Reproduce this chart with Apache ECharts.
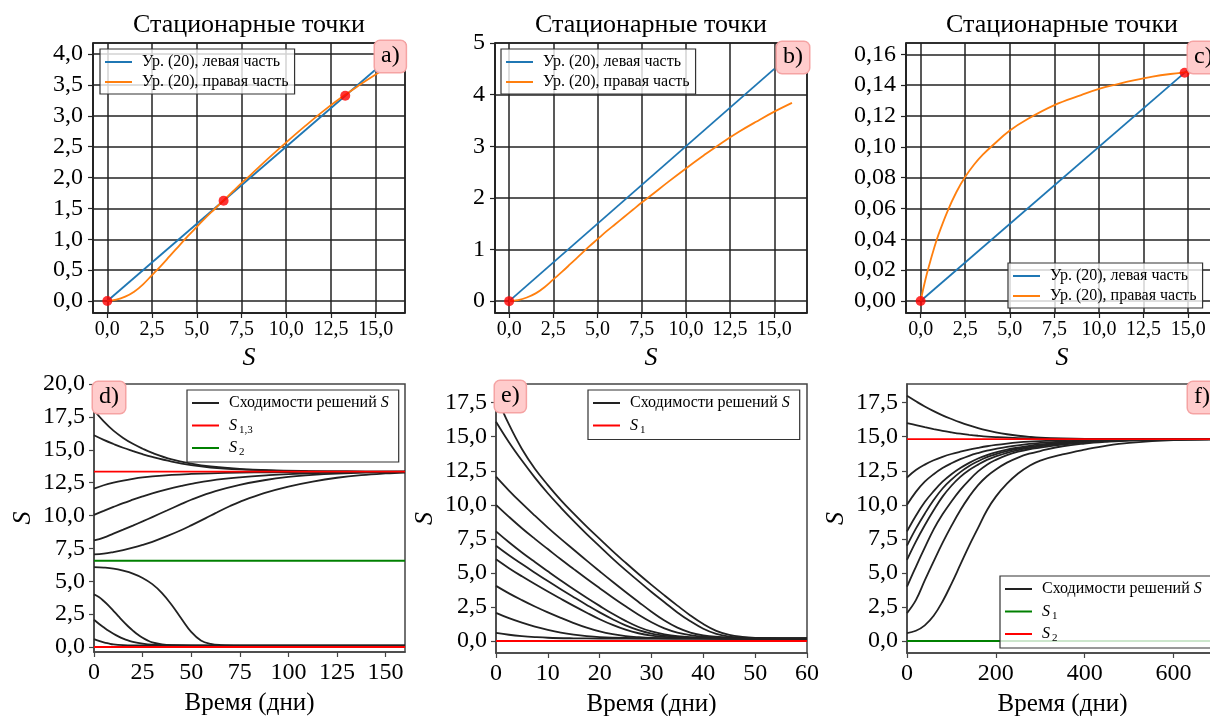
<!DOCTYPE html>
<html><head><meta charset="utf-8">
<script src="https://cdn.jsdelivr.net/npm/echarts@6/dist/echarts.min.js"></script>
<style>html,body{margin:0;padding:0;background:#fff}#c{width:1210px;height:716px}</style>
</head><body><div id="c"></div>
<script>
// ---------------- data: top row (stationary points) ----------------
const lhsA = [[0, 0], [15, 3.75]];
const lhsB = [[0, 0], [15, 4.5]];
const lhsC = [[0, 0], [15, 0.15]];
const sRhsAB = [0, 0.5, 1, 1.5, 2, 2.5, 3, 3.5, 4, 4.5, 5, 5.5, 6, 6.5, 7, 7.5, 8, 9, 10, 11, 12, 13, 14, 15, 16];
const rhsAB  = [0, 0.02, 0.07, 0.15, 0.27, 0.42, 0.57, 0.73, 0.89, 1.05, 1.2, 1.35, 1.49, 1.63, 1.77, 1.91, 2.04, 2.31, 2.57, 2.82, 3.06, 3.28, 3.48, 3.67, 3.84];
const sRhsC = [0, 0.25, 0.5, 0.75, 1, 1.5, 2, 2.5, 3, 3.5, 4, 5, 6, 7.5, 9, 10, 11, 12, 13, 14, 14.8, 15.8];
const rhsC  = [0, 0.013, 0.024, 0.034, 0.043, 0.058, 0.0705, 0.0805, 0.0885, 0.095, 0.1005, 0.1105, 0.118, 0.127, 0.1335, 0.1375, 0.1405, 0.1432, 0.1455, 0.1472, 0.1482, 0.1492];
const dotsA = [[0, 0], [6.5, 1.625], [13.3, 3.325]];
const dotsB = [[0, 0]];
const dotsC = [[0, 0], [14.8, 0.148]];

// ---------------- data: panel d ----------------
const d18 = [[0,18],[5,17.15],[10,16.45],[15,15.9],[20,15.45],[25,15.08],[30,14.76],[40,14.27],[50,13.95],[60,13.73],[75,13.54],[90,13.44],[110,13.38],[130,13.35],[160,13.33]];
const d16 = [[0,16.1],[5,15.75],[10,15.44],[15,15.15],[20,14.9],[25,14.66],[30,14.45],[40,14.1],[50,13.83],[60,13.65],[75,13.5],[90,13.42],[110,13.37],[130,13.35],[160,13.33]];
const d12 = [[0,12.05],[5,12.3],[10,12.5],[15,12.66],[20,12.79],[25,12.9],[30,12.98],[40,13.09],[50,13.16],[60,13.21],[75,13.26],[90,13.29],[110,13.31],[130,13.32],[160,13.33]];
const d10 = [[0,10.05],[5,10.35],[10,10.65],[15,10.94],[20,11.2],[25,11.45],[30,11.68],[37.5,11.98],[45,12.25],[50,12.41],[60,12.66],[75,12.9],[90,13.07],[100,13.15],[115,13.23],[130,13.28],[145,13.31],[160,13.32]];
const d8  = [[0,8.1],[5,8.32],[10,8.62],[15,8.92],[20,9.23],[25,9.55],[30,9.88],[37.5,10.38],[45,10.88],[50,11.2],[62.5,11.85],[75,12.33],[87.5,12.68],[100,12.93],[112.5,13.09],[125,13.19],[140,13.26],[160,13.31]];
const d7  = [[0,7.05],[5,7.1],[10,7.22],[15,7.37],[20,7.55],[25,7.76],[30,8.0],[37.5,8.43],[45,8.9],[50,9.25],[57.5,9.8],[62.5,10.18],[70,10.72],[75,11.04],[87.5,11.7],[100,12.2],[112.5,12.58],[125,12.87],[137.5,13.07],[150,13.2],[160,13.27]];
const d6  = [[0,6.08],[5,6.04],[10,5.96],[15,5.8],[20,5.58],[25,5.25],[30,4.78],[35,4.1],[40,3.2],[45,2.15],[50,1.15],[55,0.5],[60,0.24],[65,0.15],[75,0.11],[100,0.1],[160,0.1]];
const d4  = [[0,4.0],[2.5,3.8],[5,3.5],[7.5,3.15],[10,2.75],[12.5,2.35],[15,1.95],[17.5,1.58],[20,1.25],[22.5,0.95],[25,0.7],[27.5,0.5],[30,0.35],[35,0.2],[40,0.14],[50,0.11],[160,0.1]];
const d2  = [[0,2.07],[2.5,1.77],[5,1.5],[7.5,1.24],[10,1.01],[12.5,0.81],[15,0.64],[17.5,0.5],[20,0.39],[25,0.25],[30,0.17],[40,0.12],[160,0.1]];
const d06 = [[0,0.6],[2.5,0.46],[5,0.35],[7.5,0.27],[10,0.2],[15,0.14],[20,0.12],[160,0.1]];
const levelsD_S13 = [13.33, 0];
const levelsD_S2 = [6.56];

// ---------------- data: panel e ----------------
const e18 = [[0,18],[2.5,15.9],[5,14.1],[7.5,12.65],[10,11.45],[12.5,10.35],[15,9.35],[17.5,8.4],[20,7.5],[22.5,6.6],[25,5.75],[27.5,4.92],[30,4.12],[32.5,3.35],[35,2.6],[37.5,1.88],[40,1.25],[42.5,0.75],[45,0.45],[47.5,0.3],[50,0.23],[55,0.18],[60,0.17]];
const e16 = [[0,16.1],[2.5,14.6],[5,13.25],[7.5,12.0],[10,10.85],[12.5,9.8],[15,8.8],[17.5,7.85],[20,6.95],[22.5,6.05],[25,5.2],[27.5,4.4],[30,3.6],[32.5,2.85],[35,2.1],[37.5,1.45],[40,0.9],[42.5,0.52],[45,0.33],[47.5,0.24],[50,0.2],[55,0.18],[60,0.17]];
const e12 = [[0,12.07],[2.5,11.05],[5,10.1],[7.5,9.2],[10,8.33],[12.5,7.5],[15,6.7],[17.5,5.9],[20,5.12],[22.5,4.35],[25,3.6],[27.5,2.87],[30,2.15],[32.5,1.5],[35,0.98],[37.5,0.62],[40,0.42],[45,0.25],[50,0.19],[60,0.17]];
const e10 = [[0,10.0],[2.5,9.12],[5,8.28],[7.5,7.5],[10,6.75],[12.5,6.0],[15,5.28],[17.5,4.57],[20,3.88],[22.5,3.2],[25,2.55],[27.5,1.93],[30,1.38],[32.5,0.93],[35,0.62],[37.5,0.43],[40,0.32],[45,0.22],[50,0.18],[60,0.17]];
const e8  = [[0,8.05],[2.5,7.25],[5,6.5],[7.5,5.8],[10,5.12],[12.5,4.45],[15,3.8],[17.5,3.18],[20,2.58],[22.5,2.0],[25,1.48],[27.5,1.03],[30,0.7],[32.5,0.48],[35,0.35],[40,0.23],[45,0.19],[50,0.18],[60,0.17]];
const e7  = [[0,7.0],[2.5,6.3],[5,5.65],[7.5,5.02],[10,4.4],[12.5,3.8],[15,3.22],[17.5,2.65],[20,2.1],[22.5,1.6],[25,1.15],[27.5,0.8],[30,0.55],[32.5,0.4],[35,0.3],[40,0.21],[50,0.18],[60,0.17]];
const e6  = [[0,6.0],[2.5,5.35],[5,4.75],[7.5,4.18],[10,3.63],[12.5,3.1],[15,2.58],[17.5,2.08],[20,1.6],[22.5,1.18],[25,0.83],[27.5,0.57],[30,0.4],[32.5,0.3],[35,0.25],[40,0.2],[50,0.18],[60,0.17]];
const e4  = [[0,4.05],[2.5,3.5],[5,3.0],[7.5,2.53],[10,2.1],[12.5,1.7],[15,1.32],[17.5,0.98],[20,0.7],[22.5,0.5],[25,0.36],[27.5,0.28],[30,0.23],[35,0.2],[45,0.18],[60,0.17]];
const e2  = [[0,2.07],[2.5,1.68],[5,1.35],[7.5,1.06],[10,0.82],[12.5,0.62],[15,0.47],[17.5,0.36],[20,0.29],[25,0.22],[30,0.19],[40,0.18],[60,0.17]];
const e06 = [[0,0.6],[2.5,0.46],[5,0.36],[7.5,0.29],[10,0.24],[15,0.2],[20,0.18],[30,0.17],[60,0.17]];
const levelsE_S1 = [0];

// ---------------- data: panel f ----------------
const f18 = [[0,18],[20,17.6],[40,17.22],[60,16.88],[80,16.57],[100,16.3],[120,16.05],[140,15.83],[160,15.63],[180,15.46],[200,15.32],[225,15.18],[250,15.07],[275,14.99],[300,14.93],[350,14.87],[400,14.84],[500,14.83],[700,14.82]];
const f16 = [[0,16.0],[20,15.85],[40,15.7],[60,15.56],[80,15.43],[100,15.32],[120,15.22],[140,15.14],[160,15.07],[180,15.01],[200,14.97],[250,14.9],[300,14.86],[400,14.83],[700,14.82]];
const f12 = [[0,12.0],[20,12.55],[40,12.95],[60,13.27],[80,13.52],[100,13.73],[120,13.9],[140,14.05],[160,14.18],[180,14.3],[200,14.4],[225,14.5],[250,14.58],[275,14.64],[300,14.68],[350,14.74],[400,14.78],[500,14.81],[700,14.82]];
const f10 = [[0,10.0],[20,10.95],[40,11.7],[60,12.25],[80,12.7],[100,13.05],[120,13.35],[140,13.6],[160,13.8],[180,13.97],[200,14.1],[225,14.25],[250,14.37],[275,14.47],[300,14.55],[350,14.66],[400,14.73],[450,14.77],[500,14.8],[600,14.82],[700,14.82]];
const f8  = [[0,8.05],[20,9.2],[40,10.2],[60,11.0],[80,11.7],[100,12.25],[120,12.7],[140,13.08],[160,13.4],[180,13.65],[200,13.85],[225,14.05],[250,14.2],[275,14.33],[300,14.43],[350,14.58],[400,14.68],[450,14.74],[500,14.78],[600,14.81],[700,14.82]];
const f7  = [[0,7.0],[20,8.25],[40,9.35],[60,10.35],[80,11.2],[100,11.85],[120,12.4],[140,12.85],[160,13.2],[180,13.5],[200,13.72],[225,13.95],[250,14.12],[275,14.26],[300,14.37],[350,14.54],[400,14.65],[450,14.72],[500,14.77],[600,14.8],[700,14.82]];
const f6  = [[0,5.96],[20,7.3],[40,8.5],[60,9.6],[80,10.6],[100,11.4],[120,12.05],[140,12.55],[160,12.95],[180,13.3],[200,13.55],[225,13.82],[250,14.02],[275,14.17],[300,14.3],[350,14.5],[400,14.62],[450,14.7],[500,14.75],[600,14.8],[700,14.82]];
const f4  = [[0,4.0],[20,5.45],[40,6.85],[60,8.2],[80,9.3],[100,10.25],[120,11.1],[140,11.82],[160,12.45],[180,12.95],[200,13.3],[225,13.65],[250,13.9],[275,14.08],[300,14.2],[350,14.42],[400,14.57],[450,14.67],[500,14.73],[600,14.79],[700,14.82]];
const f2  = [[0,2.05],[20,3.0],[40,4.45],[60,5.85],[80,7.2],[100,8.45],[120,9.6],[140,10.6],[160,11.45],[180,12.1],[200,12.6],[225,13.1],[250,13.47],[275,13.75],[300,13.95],[350,14.3],[400,14.5],[450,14.63],[500,14.72],[600,14.79],[700,14.81]];
const f06 = [[0,0.58],[20,0.75],[40,1.15],[60,1.85],[80,2.9],[100,4.2],[120,5.6],[140,7.0],[160,8.3],[180,9.6],[200,10.6],[225,11.55],[250,12.3],[275,12.85],[300,13.25],[350,13.7],[400,14.05],[450,14.35],[500,14.55],[600,14.75],[700,14.8]];
const levelsF_S1 = [0];
const levelsF_S2 = [14.82];

// ---------------- axes: ranges and tick labels ----------------
const xRange = [[-0.8, 16.64], [-0.8, 16.85], [-0.82, 16.67], [0, 160], [0, 60], [0, 700]];
const yRange = [[-0.195, 4.18], [-0.23, 5.0], [-0.0078, 0.1673], [-0.38, 20], [-0.88, 18.87], [-0.88, 18.87]];
const xTicksTop = [0, 2.5, 5, 7.5, 10, 12.5, 15];
const yTicksA = [0, 0.5, 1, 1.5, 2, 2.5, 3, 3.5, 4];
const yTicksB = [0, 1, 2, 3, 4, 5];
const yTicksC = [0, 0.02, 0.04, 0.06, 0.08, 0.1, 0.12, 0.14, 0.16];
const xTicksD = [0, 25, 50, 75, 100, 125, 150];
const yTicksD = [0, 2.5, 5, 7.5, 10, 12.5, 15, 17.5, 20];
const xTicksE = [0, 10, 20, 30, 40, 50, 60];
const yTicksEF = [0, 2.5, 5, 7.5, 10, 12.5, 15, 17.5];
const xTicksF = [0, 200, 400, 600];

// ---------------- texts ----------------
const TITLE = 'Стационарные точки';
const LEG = {
  lhs: '{g|}Ур. (20), левая часть',
  rhs: '{g|}Ур. (20), правая часть',
  conv: '{g|}Сходимости решений {i|S}',
  S13: '{g|}{i|S}{s|1,3}',
  S2d: '{g|}{i|S}{s|2}',
  S1e: '{g|}{i|S}{s|1}',
  S1f: '{g|}{i|S}{s|1}',
  S2f: '{g|}{i|S}{s|2}'
};
const PANEL = ['a)', 'b)', 'c)', 'd)', 'e)', 'f)'];

// ---------------- build ----------------
const FONT = '"Liberation Serif", "Times New Roman", serif';
const C = {blue: '#1f77b4', orange: '#ff7f0e', red: '#ff0000', green: '#008000', black: '#222222'};
const gridsPos = [
  {left: 93, top: 43, width: 312, height: 270},
  {left: 495, top: 43, width: 312, height: 270},
  {left: 906, top: 43, width: 312, height: 270},
  {left: 94, top: 384, width: 311, height: 268},
  {left: 496, top: 384, width: 311, height: 269},
  {left: 907, top: 384, width: 311, height: 269}
];
const fmt = dec => v => v.toFixed(dec).replace('.', ',');
const pairs = (xs, ys) => xs.map((x, i) => [x, ys[i]]);
const hline = (lvl, gi) => [[xRange[gi][0], lvl], [xRange[gi][1], lvl]];

function axis(gi, range, ticks, dec, fs, margin, split, frame, extra) {
  const iv = ticks[1] - ticks[0];
  return Object.assign({
    type: 'value', gridIndex: gi, min: range[0], max: range[1],
    minInterval: iv, maxInterval: iv,
    axisLine: {show: true, onZero: false, lineStyle: {color: frame, width: 1.5}},
    axisTick: {show: true, inside: false, length: 5, lineStyle: {color: frame, width: 1.2}},
    axisLabel: {show: true, fontFamily: FONT, fontSize: fs, color: '#000', margin: margin, formatter: fmt(dec)},
    splitLine: {show: split, lineStyle: {color: '#222', width: 1.5}}
  }, extra || {});
}
const nameS = (gap, rot) => ({name: 'S', nameLocation: 'middle', nameGap: gap, nameRotate: rot,
  nameTextStyle: {fontFamily: FONT, fontStyle: 'italic', fontSize: 26, color: '#000'}});
const nameT = {name: 'Время (дни)', nameLocation: 'middle', nameGap: 39,
  nameTextStyle: {fontFamily: FONT, fontSize: 25, color: '#000'}};

const xAxes = [
  axis(0, xRange[0], xTicksTop, 1, 20, 7, true, '#222', nameS(32, 0)),
  axis(1, xRange[1], xTicksTop, 1, 20, 7, true, '#222', nameS(32, 0)),
  axis(2, xRange[2], xTicksTop, 1, 20, 7, true, '#222', nameS(32, 0)),
  axis(3, xRange[3], xTicksD, 0, 24, 9, false, '#444', nameT),
  axis(4, xRange[4], xTicksE, 0, 24, 9, false, '#444', nameT),
  axis(5, xRange[5], xTicksF, 0, 24, 9, false, '#444', nameT)
];
xAxes[5].axisLabel.showMaxLabel = false;
const yAxes = [
  axis(0, yRange[0], yTicksA, 1, 24, 10, true, '#222'),
  axis(1, yRange[1], yTicksB, 0, 24, 10, true, '#222'),
  axis(2, yRange[2], yTicksC, 2, 24, 10, true, '#222'),
  axis(3, yRange[3], yTicksD, 1, 24, 9, false, '#444', nameS(58, 90)),
  axis(4, yRange[4], yTicksEF, 1, 24, 9, false, '#444', nameS(58, 90)),
  axis(5, yRange[5], yTicksEF, 1, 24, 9, false, '#444', nameS(58, 90))
];

const series = [];
function line(name, data, gi, color, smooth) {
  series.push({type: 'line', name, data, xAxisIndex: gi, yAxisIndex: gi, showSymbol: false, symbol: 'none',
    smooth: smooth ? 0.4 : false, color, lineStyle: {color, width: 1.8},
    animation: false, silent: true});
}
function dots(data, gi) {
  series.push({type: 'scatter', name: 'dots', data, xAxisIndex: gi, yAxisIndex: gi, symbolSize: 10,
    itemStyle: {color: C.red}, z: 5, animation: false, silent: true});
}
// a, b, c
line('lhs', lhsA, 0, C.blue); line('rhs', pairs(sRhsAB, rhsAB), 0, C.orange, true); dots(dotsA, 0);
line('lhs', lhsB, 1, C.blue); line('rhs', pairs(sRhsAB, rhsAB), 1, C.orange, true); dots(dotsB, 1);
line('lhs', lhsC, 2, C.blue); line('rhs', pairs(sRhsC, rhsC), 2, C.orange, true); dots(dotsC, 2);
// d
[d18, d16, d12, d10, d8, d7, d6, d4, d2, d06].forEach(d => line('conv', d, 3, C.black, true));
levelsD_S13.forEach(l => line('S13', hline(l, 3), 3, C.red));
levelsD_S2.forEach(l => line('S2d', hline(l, 3), 3, C.green));
// e
[e18, e16, e12, e10, e8, e7, e6, e4, e2, e06].forEach(d => line('conv', d, 4, C.black, true));
levelsE_S1.forEach(l => line('S1e', hline(l, 4), 4, C.red));
// f
[f18, f16, f12, f10, f8, f7, f6, f4, f2, f06].forEach(d => line('conv', d, 5, C.black, true));
levelsF_S1.forEach(l => line('S1f', hline(l, 5), 5, C.green));
levelsF_S2.forEach(l => line('S2f', hline(l, 5), 5, C.red));

function legend(names, left, top, lh) {
  return {
    data: names, left, top, orient: 'vertical', icon: 'rect', itemWidth: 27, itemHeight: 2,
    itemGap: lh === 20 ? 2.5 : 2, padding: lh === 20 ? [3, 10, 4, 5] : [4, 6, 3, 5],
    backgroundColor: 'rgba(255,255,255,0.8)', borderColor: '#333', borderWidth: 1.2, borderRadius: 0,
    selectedMode: false, z: 10,
    formatter: n => LEG[n],
    textStyle: {fontFamily: FONT, fontSize: 16, color: '#000', lineHeight: lh,
      rich: {
        g: {width: 5, lineHeight: lh},
        i: {fontFamily: FONT, fontStyle: 'italic', fontSize: 16, lineHeight: lh},
        s: {fontFamily: FONT, fontSize: 11, lineHeight: 10, verticalAlign: 'bottom', padding: [0, 0, 0, 2]}
      }}
  };
}
const legends = [
  legend(['lhs', 'rhs'], 100, 49, 18),
  legend(['lhs', 'rhs'], 501, 49, 18),
  legend(['lhs', 'rhs'], 1008, 263, 18),
  legend(['conv', 'S13', 'S2d'], 187, 390, 20),
  legend(['conv', 'S1e'], 588, 390, 20),
  legend(['conv', 'S1f', 'S2f'], 1000, 576, 20)
];

const graphic = [];
[249, 651, 1062].forEach(x => graphic.push({type: 'text', x, y: 25, z: 50,
  style: {text: TITLE, fill: '#000', font: '26px ' + FONT, align: 'center', verticalAlign: 'middle'}}));
const boxPos = [[375, 41], [777, 42], [1188, 42], [93, 382], [495, 381], [1188, 382]];
boxPos.forEach((p, i) => graphic.push({type: 'text', x: p[0], y: p[1], z: 60,
  style: {text: PANEL[i], fill: '#000', font: '24px ' + FONT, align: 'left', verticalAlign: 'top',
    lineHeight: 24, backgroundColor: '#ffcccc', borderColor: '#f5a3a3', borderWidth: 1.5, borderRadius: 5,
    padding: [3, 6, 4, 6]}}));

const chart = echarts.init(document.getElementById('c'), null, {renderer: 'canvas'});
chart.setOption({
  animation: false,
  backgroundColor: '#fff',
  grid: gridsPos.map(g => Object.assign({show: true, borderColor: g.top < 100 ? '#222' : '#444', borderWidth: 1.5,
    backgroundColor: 'transparent', containLabel: false, outerBoundsMode: 'none'}, g)),
  xAxis: xAxes,
  yAxis: yAxes,
  legend: legends,
  series,
  graphic
});
</script></body></html>
